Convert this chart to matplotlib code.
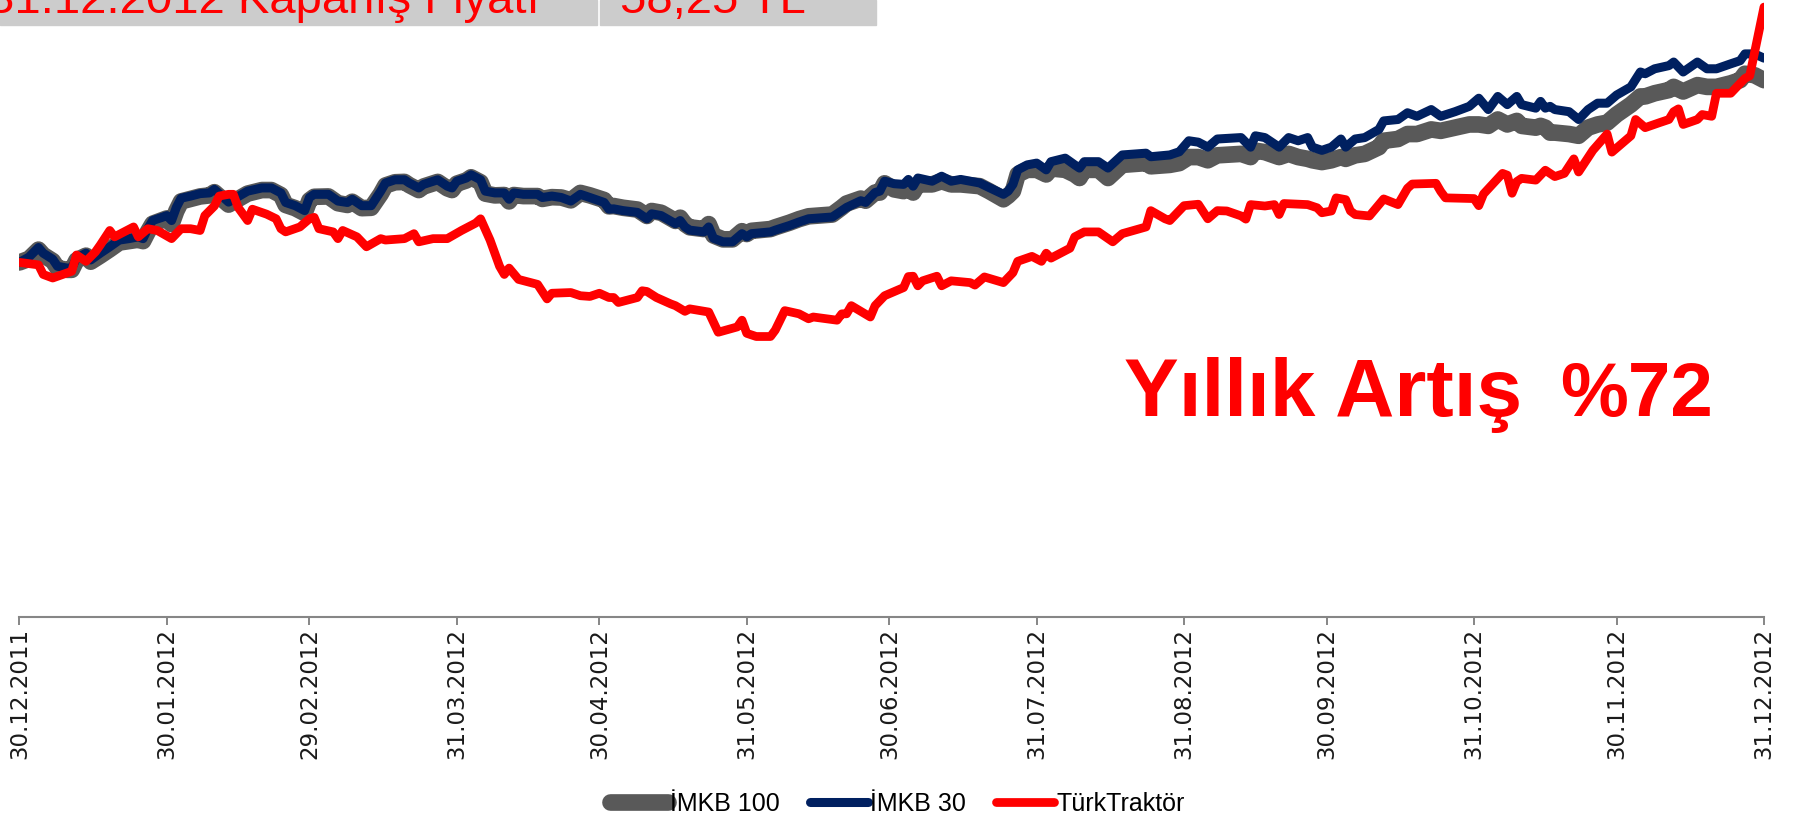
import matplotlib
matplotlib.use("Agg")
import matplotlib.pyplot as plt
import matplotlib.dates as mdates
from matplotlib.patches import Rectangle
import pandas as pd

# index dates (IMKB 100 / IMKB 30 share the same sampling)
idx_dates = [
    "2011-12-30", "2012-01-01", "2012-01-03", "2012-01-04", "2012-01-06", "2012-01-07", "2012-01-09",
    "2012-01-10", "2012-01-11", "2012-01-13", "2012-01-14", "2012-01-16", "2012-01-18", "2012-01-20",
    "2012-01-22", "2012-01-24", "2012-01-25", "2012-01-26", "2012-01-27", "2012-01-29", "2012-01-30",
    "2012-01-31",
    "2012-02-01", "2012-02-02", "2012-02-04", "2012-02-06", "2012-02-08", "2012-02-09", "2012-02-12",
    "2012-02-16", "2012-02-19", "2012-02-21", "2012-02-23", "2012-02-24", "2012-02-26", "2012-02-28",
    "2012-02-29",
    "2012-03-01", "2012-03-04", "2012-03-06", "2012-03-08", "2012-03-09", "2012-03-11", "2012-03-13",
    "2012-03-15", "2012-03-16", "2012-03-18", "2012-03-20", "2012-03-21", "2012-03-23", "2012-03-24",
    "2012-03-27", "2012-03-29", "2012-03-30", "2012-03-31",
    "2012-04-02", "2012-04-03", "2012-04-05", "2012-04-06", "2012-04-08", "2012-04-10", "2012-04-11",
    "2012-04-12", "2012-04-14", "2012-04-17", "2012-04-18", "2012-04-20", "2012-04-22", "2012-04-24",
    "2012-04-26", "2012-04-28",
    "2012-05-01", "2012-05-02", "2012-05-03", "2012-05-05", "2012-05-08", "2012-05-10", "2012-05-11",
    "2012-05-13", "2012-05-16", "2012-05-17", "2012-05-18", "2012-05-19", "2012-05-22", "2012-05-23",
    "2012-05-24", "2012-05-26", "2012-05-28", "2012-05-30", "2012-05-31",
    "2012-06-01", "2012-06-05", "2012-06-06", "2012-06-09", "2012-06-11", "2012-06-13", "2012-06-18",
    "2012-06-19", "2012-06-20", "2012-06-21", "2012-06-24", "2012-06-25", "2012-06-27", "2012-06-28",
    "2012-06-29",
    "2012-07-01", "2012-07-03", "2012-07-04", "2012-07-05", "2012-07-06", "2012-07-09", "2012-07-11",
    "2012-07-13", "2012-07-15", "2012-07-19", "2012-07-21", "2012-07-24", "2012-07-25", "2012-07-26",
    "2012-07-27", "2012-07-29", "2012-07-31",
    "2012-08-02", "2012-08-03", "2012-08-06", "2012-08-08", "2012-08-09", "2012-08-10", "2012-08-13",
    "2012-08-15", "2012-08-18", "2012-08-23", "2012-08-24", "2012-08-28", "2012-08-30",
    "2012-09-01", "2012-09-03", "2012-09-05", "2012-09-07", "2012-09-12", "2012-09-14", "2012-09-15",
    "2012-09-17", "2012-09-20", "2012-09-22", "2012-09-24", "2012-09-26", "2012-09-27", "2012-09-29",
    "2012-10-01", "2012-10-03", "2012-10-04", "2012-10-06", "2012-10-08", "2012-10-11", "2012-10-12",
    "2012-10-15", "2012-10-17", "2012-10-19", "2012-10-22", "2012-10-24", "2012-10-27", "2012-10-30",
    "2012-11-01", "2012-11-03", "2012-11-05", "2012-11-07", "2012-11-09", "2012-11-10", "2012-11-13",
    "2012-11-14", "2012-11-15", "2012-11-16", "2012-11-17", "2012-11-20", "2012-11-22", "2012-11-24",
    "2012-11-26", "2012-11-28", "2012-11-30",
    "2012-12-03", "2012-12-05", "2012-12-06", "2012-12-08", "2012-12-11", "2012-12-12", "2012-12-14",
    "2012-12-17", "2012-12-19", "2012-12-21", "2012-12-24", "2012-12-26", "2012-12-27", "2012-12-29",
    "2012-12-31",
]

imkb30 = [
    100.0, 101.5, 104.2, 102.6, 100.9, 98.9, 98.4, 98.4, 101.2, 102.6, 100.7, 102.6, 104.4, 106.3,
    106.7, 107.2, 106.7, 109.5, 111.8, 112.7, 113.2, 111.8,
    115.5, 118.1, 118.7, 119.4, 119.6, 120.6, 117.0, 120.1, 121.0, 121.0, 119.6, 116.9, 116.0, 114.6,
    118.3,
    119.2, 119.2, 117.3, 116.9, 117.8, 116.0, 116.0, 120.1, 122.4, 123.3, 123.3, 122.4, 121.0, 122.0,
    123.3, 121.5, 121.0, 122.9,
    123.8, 124.7, 123.3, 120.1, 119.6, 119.6, 117.8, 119.6, 119.2, 119.2, 118.3, 118.7, 118.3, 117.3,
    119.2, 118.3,
    116.9, 115.0, 115.1, 114.6, 114.1, 112.3, 113.7, 113.2, 110.9, 111.8, 110.0, 109.1, 108.6, 110.0,
    106.8, 105.8, 105.8, 108.1, 107.2,
    108.1, 108.6, 109.1, 110.4, 111.4, 112.3, 112.8, 113.7, 114.6, 115.5, 117.4, 116.9, 119.7, 120.1,
    122.9,
    122.2, 122.0, 123.4, 121.5, 123.8, 122.9, 124.3, 122.9, 123.4, 122.4, 121.1, 119.2, 120.1, 122.0,
    126.1, 127.5, 128.0,
    126.1, 128.4, 129.4, 127.5, 126.6, 128.4, 128.4, 126.6, 130.3, 130.8, 129.8, 130.3, 131.2,
    134.3, 133.9, 132.5, 134.8, 135.2, 132.5, 135.7, 135.2, 132.5, 135.2, 134.3, 135.2, 132.5, 131.6,
    132.5, 134.8, 132.5, 134.8, 135.2, 137.5, 139.9, 140.3, 142.2, 141.2, 143.1, 141.2, 142.5, 144.0,
    146.3, 143.1, 146.8, 144.5, 146.8, 144.5, 143.5, 145.4, 143.5, 144.0, 143.1, 142.5, 140.3, 143.1,
    144.9, 144.9, 147.2,
    149.5, 153.7, 153.2, 154.6, 155.5, 156.5, 153.7, 156.5, 154.6, 154.6, 156.0, 156.9, 158.8, 158.8,
    157.6,
]

imkb100 = [
    100.0, 101.0, 103.6, 102.1, 100.4, 98.4, 97.9, 97.9, 100.6, 101.9, 100.2, 101.9, 103.7, 105.6,
    106.0, 106.4, 106.0, 108.6, 110.9, 111.9, 112.4, 110.8,
    114.5, 117.2, 117.9, 118.6, 118.9, 119.8, 116.3, 119.4, 120.4, 120.4, 119.0, 116.2, 115.3, 113.9,
    117.5,
    118.5, 118.6, 116.7, 116.2, 117.1, 115.3, 115.4, 119.3, 121.7, 122.6, 122.7, 121.8, 120.4, 121.4,
    122.7, 120.9, 120.4, 122.2,
    123.1, 124.0, 122.6, 119.4, 118.9, 119.0, 117.2, 119.0, 118.7, 118.7, 117.9, 118.4, 118.3, 117.5,
    119.6, 118.9,
    117.6, 115.8, 115.9, 115.4, 114.9, 113.1, 114.5, 114.0, 111.7, 112.6, 110.8, 109.9, 109.4, 110.8,
    107.6, 106.5, 106.5, 108.8, 108.0,
    108.9, 109.4, 109.9, 111.2, 112.2, 113.0, 113.5, 114.5, 115.5, 116.6, 118.0, 117.4, 119.7, 119.7,
    122.3,
    120.6, 120.1, 121.5, 119.7, 122.0, 122.0, 122.9, 122.0, 122.0, 121.5, 120.1, 117.8, 118.8, 120.1,
    124.8, 126.1, 126.1,
    124.8, 126.5, 126.1, 124.8, 123.8, 126.1, 126.1, 123.8, 127.5, 128.0, 127.1, 127.5, 128.0,
    129.7, 129.7, 128.8, 130.2, 130.6, 129.7, 131.5, 131.1, 129.7, 130.6, 129.7, 129.2, 128.8, 128.3,
    128.8, 129.7, 129.2, 130.2, 130.6, 132.5, 134.3, 134.8, 136.2, 136.2, 137.5, 137.1, 138.0, 138.9,
    138.9, 138.5, 140.3, 138.9, 139.9, 138.5, 138.0, 138.5, 138.0, 136.6, 136.6, 136.2, 135.7, 138.0,
    138.9, 139.4, 141.7,
    144.5, 146.8, 146.8, 147.7, 148.6, 149.5, 148.2, 150.0, 149.5, 149.5, 150.5, 151.4, 153.2, 152.8,
    151.4,
]

tt_dates = [
    "2011-12-30", "2012-01-03", "2012-01-04", "2012-01-06", "2012-01-10", "2012-01-11", "2012-01-13",
    "2012-01-15", "2012-01-16", "2012-01-18", "2012-01-19", "2012-01-23", "2012-01-24", "2012-01-26",
    "2012-01-28", "2012-01-31",
    "2012-02-02", "2012-02-04", "2012-02-06", "2012-02-07", "2012-02-09", "2012-02-10", "2012-02-12",
    "2012-02-13", "2012-02-14", "2012-02-16", "2012-02-17", "2012-02-20", "2012-02-22", "2012-02-23",
    "2012-02-24", "2012-02-27", "2012-02-29",
    "2012-03-01", "2012-03-02", "2012-03-05", "2012-03-06", "2012-03-07", "2012-03-10", "2012-03-12",
    "2012-03-15", "2012-03-16", "2012-03-20", "2012-03-22", "2012-03-23", "2012-03-26", "2012-03-29",
    "2012-04-01", "2012-04-03", "2012-04-04", "2012-04-05", "2012-04-07", "2012-04-09", "2012-04-10",
    "2012-04-11", "2012-04-13", "2012-04-17", "2012-04-19", "2012-04-20", "2012-04-24", "2012-04-26",
    "2012-04-28", "2012-04-30",
    "2012-05-02", "2012-05-03", "2012-05-04", "2012-05-08", "2012-05-09", "2012-05-10", "2012-05-12",
    "2012-05-15", "2012-05-16", "2012-05-18", "2012-05-19", "2012-05-23", "2012-05-25", "2012-05-29",
    "2012-05-30", "2012-05-31",
    "2012-06-02", "2012-06-05", "2012-06-06", "2012-06-08", "2012-06-11", "2012-06-13", "2012-06-14",
    "2012-06-19", "2012-06-20", "2012-06-21", "2012-06-22", "2012-06-26", "2012-06-27", "2012-06-29",
    "2012-07-03", "2012-07-04", "2012-07-05", "2012-07-06", "2012-07-07", "2012-07-10", "2012-07-11",
    "2012-07-13", "2012-07-17", "2012-07-18", "2012-07-20", "2012-07-24", "2012-07-26", "2012-07-27",
    "2012-07-30",
    "2012-08-01", "2012-08-02", "2012-08-03", "2012-08-07", "2012-08-08", "2012-08-10", "2012-08-13",
    "2012-08-16", "2012-08-18", "2012-08-23", "2012-08-24", "2012-08-27", "2012-08-28", "2012-08-31",
    "2012-09-03", "2012-09-05", "2012-09-07", "2012-09-09", "2012-09-12", "2012-09-13", "2012-09-14",
    "2012-09-17", "2012-09-19", "2012-09-20", "2012-09-21", "2012-09-26", "2012-09-28", "2012-09-29",
    "2012-10-01", "2012-10-02", "2012-10-04", "2012-10-05", "2012-10-06", "2012-10-09", "2012-10-11",
    "2012-10-12", "2012-10-15", "2012-10-17", "2012-10-18", "2012-10-23", "2012-10-24", "2012-10-25",
    "2012-10-31",
    "2012-11-01", "2012-11-02", "2012-11-06", "2012-11-07", "2012-11-08", "2012-11-09", "2012-11-10",
    "2012-11-13", "2012-11-15", "2012-11-17", "2012-11-19", "2012-11-21", "2012-11-22", "2012-11-25",
    "2012-11-28", "2012-11-29",
    "2012-12-03", "2012-12-04", "2012-12-06", "2012-12-09", "2012-12-11", "2012-12-12", "2012-12-13",
    "2012-12-14", "2012-12-17", "2012-12-18", "2012-12-20", "2012-12-21", "2012-12-24", "2012-12-26",
    "2012-12-27", "2012-12-28", "2012-12-31",
]

turktraktor = [
    100.0, 99.3, 96.6, 95.6, 97.5, 102.1, 100.3, 103.0, 104.9, 109.0, 107.2, 110.0, 107.2, 109.5,
    109.0, 106.7,
    109.5, 109.5, 109.0, 113.2, 115.9, 118.7, 119.2, 119.2, 115.5, 111.8, 115.0, 113.6, 112.3, 109.5,
    108.6, 110.0, 112.3,
    112.7, 109.5, 108.6, 106.7, 109.0, 107.2, 104.4, 106.7, 106.3, 106.7, 108.1, 105.8, 106.7, 106.7,
    109.0, 110.4, 111.1, 112.3, 106.3, 98.9, 96.6, 98.4, 95.2, 93.8, 89.7, 91.3, 91.5, 90.6,
    90.4, 91.3,
    90.1, 90.1, 88.7, 90.1, 92.0, 91.8, 90.1, 88.3, 87.8, 86.2, 86.9, 86.0, 80.3, 81.8,
    83.7, 80.0,
    79.1, 79.1, 80.9, 86.4, 85.5, 84.1, 84.6, 83.7, 85.5, 85.5, 87.8, 84.6, 87.8, 90.6,
    92.9, 96.0, 96.1, 93.4, 94.8, 96.1, 93.4, 94.8, 94.3, 93.6, 95.9, 94.3, 97.1, 100.3,
    101.7,
    100.3, 102.6, 101.2, 104.0, 107.2, 108.6, 108.6, 105.8, 108.1, 110.0, 114.6, 112.3, 111.8, 116.0,
    116.4, 112.3, 114.6, 114.5, 113.1, 112.2, 116.3, 115.9, 116.3, 113.5, 116.6, 116.3, 115.4, 114.0,
    114.5, 118.2, 117.7, 114.5, 113.5, 113.1, 116.3, 117.9, 116.3, 120.9, 122.1, 122.3, 120.0, 118.2,
    118.0,
    116.0, 119.3, 125.1, 124.6, 119.5, 122.8, 123.7, 123.2, 126.0, 124.2, 125.1, 129.2, 125.5, 131.6,
    136.2, 131.1,
    135.7, 140.3, 138.0, 139.4, 140.3, 142.5, 143.3, 138.9, 140.3, 141.7, 141.2, 147.7, 147.7, 150.5,
    151.9, 152.6, 172.0,
]

tick_dates = [
    "2011-12-30", "2012-01-30", "2012-02-29", "2012-03-31", "2012-04-30", "2012-05-31", "2012-06-30",
    "2012-07-31", "2012-08-31", "2012-09-30", "2012-10-31", "2012-11-30", "2012-12-31",
]

plt.rcParams['font.family'] = ['Liberation Sans', 'DejaVu Sans']

fig = plt.figure(figsize=(18.02, 8.22), dpi=100)
ax = fig.add_axes([0.0108, 0.2494, 0.9681, 0.7506])

x_idx = pd.to_datetime(idx_dates)
x_tt = pd.to_datetime(tt_dates)

ax.plot(x_idx, imkb100, color="#595959", lw=12, solid_joinstyle="round",
        solid_capstyle="round", label="İMKB 100", zorder=2)
ax.plot(x_idx, imkb30, color="#002060", lw=6.5, solid_joinstyle="round",
        solid_capstyle="round", label="İMKB 30", zorder=3)
ax.plot(x_tt, turktraktor, color="#FF0000", lw=6.3, solid_joinstyle="round",
        solid_capstyle="round", label="TürkTraktör", zorder=4)

ax.set_xlim(pd.Timestamp("2011-12-30"), pd.Timestamp("2012-12-31"))
ax.set_ylim(0, 174)

ax.set_xticks(pd.to_datetime(tick_dates))
ax.xaxis.set_major_formatter(mdates.DateFormatter("%d.%m.%Y"))
ax.tick_params(axis="x", direction="out", length=5.8, width=1.4, color="#868686",
               labelsize=16.5, labelrotation=90, pad=2, labelcolor="#1a1a1a")
for lbl in ax.get_xticklabels():
    lbl.set_family("DejaVu Sans")
ax.set_yticks([])
for side in ["left", "right", "top"]:
    ax.spines[side].set_visible(False)
ax.spines["bottom"].set_color("#868686")
ax.spines["bottom"].set_linewidth(1.5)

# header table (cropped at the top of the picture)
fig.patches.append(Rectangle((0, 1 - 25 / 822), 597 / 1802, 25 / 822,
                             transform=fig.transFigure, color="#CCCCCC", zorder=0))
fig.patches.append(Rectangle((600 / 1802, 1 - 25 / 822), 276 / 1802, 25 / 822,
                             transform=fig.transFigure, color="#CCCCCC", zorder=0))
fig.text(540 / 1802, 1 - 13 / 822, "31.12.2012 Kapanış Fiyatı", color="#FF0000",
         fontsize=34, ha="right", va="baseline")
fig.text(620 / 1802, 1 - 13 / 822, "58,25 TL", color="#FF0000",
         fontsize=34, ha="left", va="baseline")

# yearly increase note
fig.text(1124 / 1802, 1 - 416 / 822, "Yıllık Artış", color="#FF0000",
         fontsize=59, fontweight="bold", ha="left", va="baseline")
fig.text(1636 / 1802, 1 - 416 / 822, "%72", color="#FF0000",
         fontsize=55, fontweight="bold", ha="center", va="baseline")

fig.legend(loc="center", bbox_to_anchor=(0.498, 0.022), ncol=3, frameon=False,
           fontsize=18, handlelength=2.3, handletextpad=0.1, columnspacing=1.2)

fig.savefig("out.png", dpi=100)
